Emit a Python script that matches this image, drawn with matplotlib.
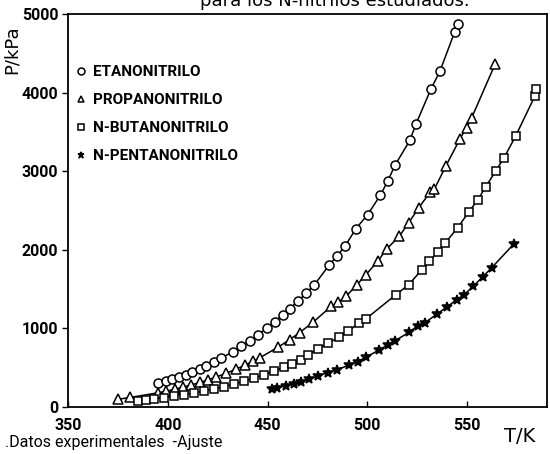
import matplotlib
matplotlib.use("Agg")
import matplotlib.pyplot as plt

# Datos (T en K, P en kPa)
T_eta = [395.2, 399.0, 402.3, 405.7, 409.0, 412.3, 416.0, 419.3, 423.0, 426.8, 432.7, 436.8,
         441.0, 445.2, 449.5, 453.5, 457.7, 461.0, 465.2, 469.3, 473.5, 481.0, 484.7, 489.0,
         494.3, 500.2, 506.5, 510.2, 513.8, 521.3, 524.3, 531.8, 536.3, 543.8, 545.2]
P_eta = [300, 325, 350, 378, 410, 444, 484, 523, 569, 620, 706, 770,
         842, 918, 1001, 1084, 1176, 1253, 1343, 1450, 1556, 1811, 1918, 2054,
         2270, 2449, 2695, 2874, 3074, 3393, 3597, 4043, 4269, 4775, 4872]

T_pro = [375.2, 381.0, 395.2, 399.3, 403.5, 407.7, 411.8, 416.0, 420.2, 424.3, 429.3, 434.0,
         438.5, 442.7, 446.0, 455.2, 461.0, 466.0, 472.7, 481.8, 485.2, 489.3, 494.8, 499.3,
         505.2, 509.7, 516.0, 520.7, 525.7, 531.5, 533.5, 539.3, 546.3, 549.7, 552.3, 564.0]
P_pro = [98, 121, 181, 202, 226, 253, 281, 312, 346, 382, 430, 479,
         530, 582, 625, 760, 856, 946, 1077, 1279, 1330, 1407, 1556, 1684,
         1854, 2011, 2173, 2343, 2534, 2734, 2768, 3065, 3406, 3555, 3682, 4362]

T_but = [385.0, 389.0, 393.0, 398.0, 403.0, 408.0, 413.0, 418.0, 423.0, 428.0, 433.0, 438.0,
         443.0, 448.0, 453.0, 458.0, 462.0, 466.8, 470.2, 475.2, 480.2, 486.0, 490.2, 495.7,
         499.3, 514.3, 520.7, 527.3, 531.0, 535.2, 539.0, 545.2, 550.7, 555.2, 559.3, 564.3,
         568.5, 574.3, 584.0, 584.7]
P_but = [82, 92, 104, 119, 137, 156, 178, 202, 229, 258, 291, 327,
         366, 409, 456, 507, 551, 600, 663, 736, 812, 889, 961, 1067,
         1122, 1429, 1556, 1747, 1854, 1968, 2088, 2279, 2478, 2632, 2802, 3002,
         3172, 3448, 3960, 4043]

T_pen = [452.0, 454.5, 459.0, 463.0, 466.8, 470.7, 475.2, 480.2, 484.7, 491.0, 495.2, 499.3,
         506.0, 510.2, 514.0, 520.7, 525.2, 529.0, 534.8, 539.8, 544.7, 548.5, 553.0, 557.7,
         562.2, 573.3]
P_pen = [229, 242, 270, 297, 323, 353, 395, 438, 472, 536, 578, 634,
         727, 791, 845, 948, 1033, 1075, 1182, 1272, 1365, 1429, 1535, 1654,
         1769, 2072]

nombres = ["ETANONITRILO", "PROPANONITRILO", "N-BUTANONITRILO", "N-PENTANONITRILO"]
x_ticks = [350, 400, 450, 500, 550]
y_ticks = [0, 1000, 2000, 3000, 4000, 5000]

narrow = ["Roboto", "DejaVu Sans"]

fig = plt.figure(figsize=(5.5, 4.54), dpi=100)
ax = fig.add_axes([68 / 550, 1 - 407 / 454, (547 - 68) / 550, (407 - 14) / 454])

series = [(T_eta, P_eta, "o", 6.5), (T_pro, P_pro, "^", 6.5),
          (T_but, P_but, "s", 5.5), (T_pen, P_pen, "*", 7)]
handles = []
for (t, p, m, ms), nom in zip(series, nombres):
    face = "black" if m == "*" else "white"
    ax.plot(t, p, color="black", lw=1.1)
    h, = ax.plot(t, p, ls="none", marker=m, ms=ms, mfc=face, mec="black", mew=1.1,
                 label=nom)
    handles.append(h)

ax.set_xlim(350, 590)
ax.set_ylim(0, 5000)
ax.set_xticks(x_ticks)
ax.set_yticks(y_ticks)
ax.tick_params(axis="x", direction="in", length=4, width=1, pad=8)
ax.tick_params(axis="y", direction="out", length=4, width=1, pad=3)
for lab in ax.get_xticklabels() + ax.get_yticklabels():
    lab.set_family(narrow)
    lab.set_fontweight("bold")
    lab.set_fontsize(11.5)
for s in ax.spines.values():
    s.set_linewidth(1.3)

leg = ax.legend(handles=handles, loc="upper left", bbox_to_anchor=(-0.012, 0.905),
                frameon=False, handlelength=0.6, handletextpad=0.5, labelspacing=0.92,
                prop={"family": narrow, "weight": "bold", "size": 11})
for h in leg.legend_handles:
    h.set_markersize(5)

fig.text(12 / 550, 1 - 50 / 454, "P/kPa", rotation=90, ha="center", va="center",
         fontsize=13)
fig.text(520 / 550, 1 - 437 / 454, "T/K", ha="center", va="center", fontsize=14)
fig.text(5 / 550, 1 - 442 / 454, ".Datos experimentales  -Ajuste", ha="left",
         va="center", family=narrow, fontsize=11.5)
fig.text(335 / 550, 1 - 6 / 454, "para los N-nitrilos estudiados.", ha="center",
         va="baseline", fontsize=13)

fig.savefig("out.png", dpi=100)
